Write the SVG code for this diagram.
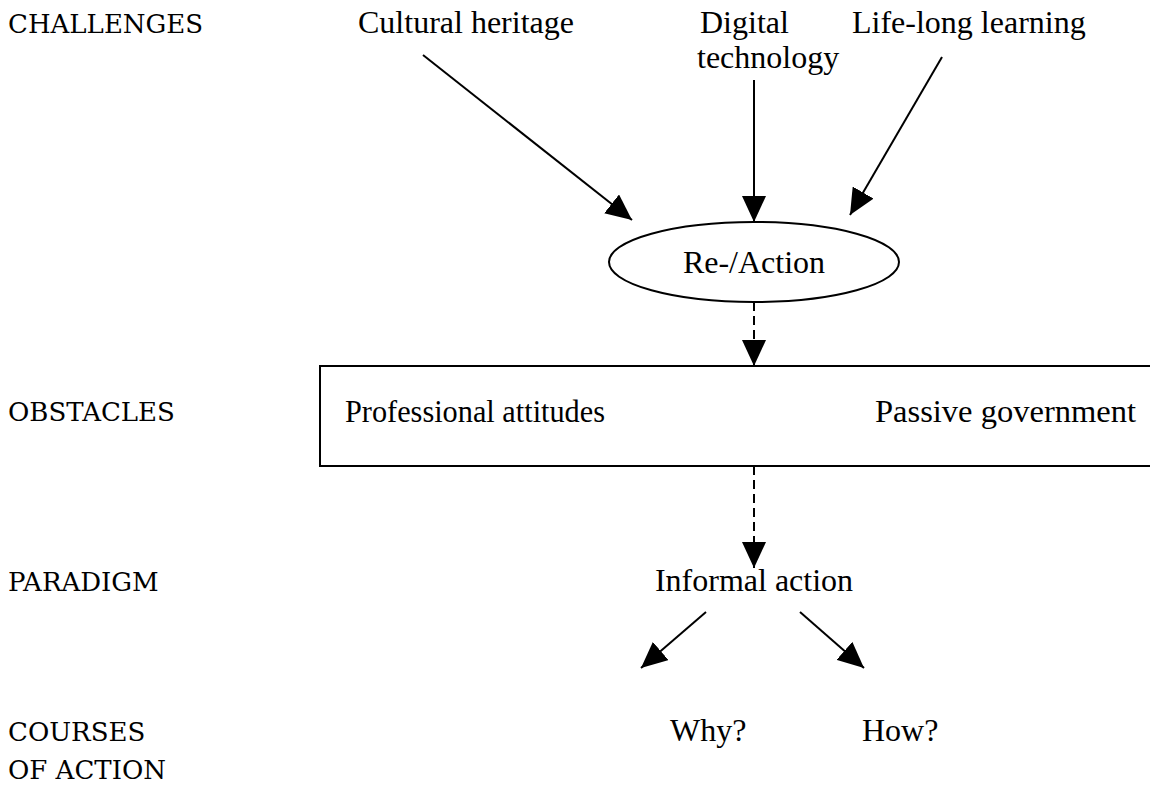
<svg xmlns="http://www.w3.org/2000/svg" width="1150" height="786" viewBox="0 0 1150 786">
<style>
.lbl{font-family:"DejaVu Serif",serif;font-size:26px;fill:#000}
.t{font-family:"Liberation Serif","Times New Roman",serif;font-size:32px;fill:#000}
.c{text-anchor:middle}
.ln{stroke:#000;stroke-width:2;fill:none}
.dash{stroke-dasharray:9 5}
</style>
<defs>
<marker id="ah" markerWidth="26" markerHeight="24" refX="26" refY="12" orient="auto" markerUnits="userSpaceOnUse">
<path d="M0,0 L26,12 L0,24 Z" fill="#000"/>
</marker>
</defs>
<rect width="1150" height="786" fill="#fff"/>
<g id="labels">
<text class="lbl" x="8" y="33">CHALLENGES</text>
<text class="lbl" x="8" y="421">OBSTACLES</text>
<text class="lbl" x="8" y="591">PARADIGM</text>
<text class="lbl" x="8" y="741">COURSES</text>
<text class="lbl" x="8" y="779">OF ACTION</text>
</g>
<g id="cultural"><text class="t" x="358" y="33">Cultural heritage</text></g>
<g id="digital"><text class="t" x="700" y="33">Digital</text><text class="t" x="697" y="68">technology</text></g>
<g id="lifelong"><text class="t" x="852" y="33">Life-long learning</text></g>
<g id="reaction"><ellipse class="ln" cx="754" cy="262" rx="145" ry="40"/><text class="t c" x="754" y="273">Re-/Action</text></g>
<g id="obstacles"><rect class="ln" x="320" y="366" width="850" height="100"/><text class="t" x="345" y="422" textLength="260" lengthAdjust="spacingAndGlyphs">Professional attitudes</text><text class="t" x="875" y="422" textLength="261" lengthAdjust="spacingAndGlyphs">Passive government</text></g>
<g id="informal"><text class="t c" x="754" y="591">Informal action</text></g>
<g id="why"><text class="t" x="670" y="741">Why?</text></g>
<g id="how"><text class="t" x="862" y="741">How?</text></g>
<g id="connectors">
<line class="ln" x1="423" y1="55" x2="632" y2="220" marker-end="url(#ah)"/>
<line class="ln" x1="754" y1="80" x2="754" y2="222" marker-end="url(#ah)"/>
<line class="ln" x1="942" y1="57" x2="850" y2="215" marker-end="url(#ah)"/>
<line class="ln dash" x1="754" y1="302" x2="754" y2="366" marker-end="url(#ah)"/>
<line class="ln dash" x1="754" y1="466" x2="754" y2="568" marker-end="url(#ah)"/>
<line class="ln" x1="706" y1="612" x2="641" y2="668" marker-end="url(#ah)"/>
<line class="ln" x1="800" y1="612" x2="864" y2="668" marker-end="url(#ah)"/>
</g>
</svg>
